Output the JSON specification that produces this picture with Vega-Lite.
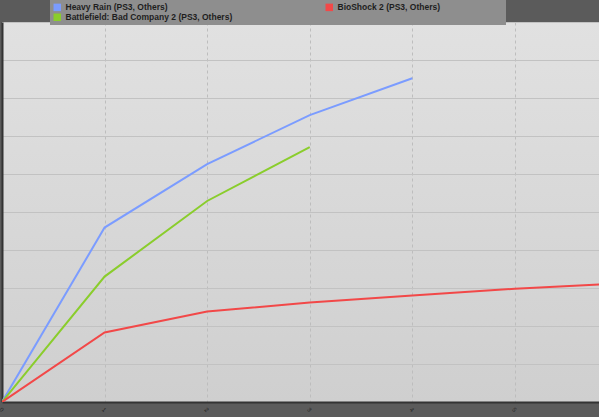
{
  "$schema": "https://vega.github.io/schema/vega-lite/v6.json",
  "width": 597,
  "height": 380,
  "autosize": {"type": "none"},
  "padding": {"left": 2, "top": 22, "right": 0, "bottom": 15},
  "background": "#5b5b5b",
  "data": {
    "values": [
      {"game": "Heavy Rain (PS3, Others)", "week": 0, "sales": 0},
      {"game": "Heavy Rain (PS3, Others)", "week": 1, "sales": 4.59},
      {"game": "Heavy Rain (PS3, Others)", "week": 2, "sales": 6.26},
      {"game": "Heavy Rain (PS3, Others)", "week": 3, "sales": 7.55},
      {"game": "Heavy Rain (PS3, Others)", "week": 4, "sales": 8.52},
      {"game": "Battlefield: Bad Company 2 (PS3, Others)", "week": 0, "sales": 0},
      {"game": "Battlefield: Bad Company 2 (PS3, Others)", "week": 1, "sales": 3.3},
      {"game": "Battlefield: Bad Company 2 (PS3, Others)", "week": 2, "sales": 5.29},
      {"game": "Battlefield: Bad Company 2 (PS3, Others)", "week": 3, "sales": 6.71},
      {"game": "BioShock 2 (PS3, Others)", "week": 0, "sales": 0},
      {"game": "BioShock 2 (PS3, Others)", "week": 1, "sales": 1.83},
      {"game": "BioShock 2 (PS3, Others)", "week": 2, "sales": 2.38},
      {"game": "BioShock 2 (PS3, Others)", "week": 3, "sales": 2.62},
      {"game": "BioShock 2 (PS3, Others)", "week": 4, "sales": 2.8},
      {"game": "BioShock 2 (PS3, Others)", "week": 5, "sales": 2.98},
      {"game": "BioShock 2 (PS3, Others)", "week": 6, "sales": 3.12}
    ]
  },
  "mark": {"type": "line", "strokeWidth": 2, "clip": true},
  "encoding": {
    "x": {
      "field": "week",
      "type": "quantitative",
      "scale": {"domain": [0, 5.82], "nice": false, "zero": true},
      "axis": {
        "title": null,
        "values": [0, 1, 2, 3, 4, 5],
        "format": "d",
        "labelAngle": 45,
        "labelFontSize": 6,
        "labelColor": "#222222",
        "labelPadding": 4,
        "ticks": false,
        "domainColor": "#333333",
        "domainWidth": 2,
        "grid": true,
        "gridColor": "#bdbdbd",
        "gridDash": [3, 3],
        "gridWidth": 1
      }
    },
    "y": {
      "field": "sales",
      "type": "quantitative",
      "scale": {"domain": [0, 10], "nice": false},
      "axis": {
        "title": null,
        "values": [0, 1, 2, 3, 4, 5, 6, 7, 8, 9, 10],
        "labels": false,
        "ticks": false,
        "domainColor": "#333333",
        "domainWidth": 2,
        "grid": true,
        "gridColor": "#c2c2c2",
        "gridWidth": 1
      }
    },
    "color": {
      "field": "game",
      "type": "nominal",
      "scale": {
        "domain": ["Heavy Rain (PS3, Others)", "Battlefield: Bad Company 2 (PS3, Others)", "BioShock 2 (PS3, Others)"],
        "range": ["#7b9cff", "#8acd2c", "#f24848"]
      },
      "legend": {
        "title": null,
        "orient": "none",
        "legendX": 48,
        "legendY": -22,
        "columns": 2,
        "gridAlign": "each",
        "columnPadding": 92,
        "rowPadding": 1,
        "padding": 3,
        "fillColor": "#8e8e8e",
        "symbolType": "square",
        "symbolSize": 56,
        "symbolStrokeWidth": 0,
        "symbolOpacity": 1,
        "labelFont": "Liberation Sans",
        "labelFontSize": 8.5,
        "labelFontWeight": "bold",
        "labelColor": "#1e1e1e",
        "labelOffset": 4,
        "labelLimit": 0,
        "labelExpr": "datum.label == 'BioShock 2 (PS3, Others)' ? datum.label + '\u2800\u2800\u2800\u2800\u2800\u2800\u2800\u2800\u2800' : datum.label",
        "encode": {
          "symbols": {
            "update": {
              "fill": {"scale": "color", "field": "value"},
              "fillOpacity": {"value": 1}
            }
          }
        }
      }
    }
  },
  "config": {
    "view": {
      "stroke": null,
      "fill": {
        "gradient": "linear",
        "x1": 0, "y1": 0, "x2": 0, "y2": 1,
        "stops": [
          {"offset": 0, "color": "#e1e1e1"},
          {"offset": 1, "color": "#cfcfcf"}
        ]
      }
    },
    "font": "Liberation Sans"
  }
}
